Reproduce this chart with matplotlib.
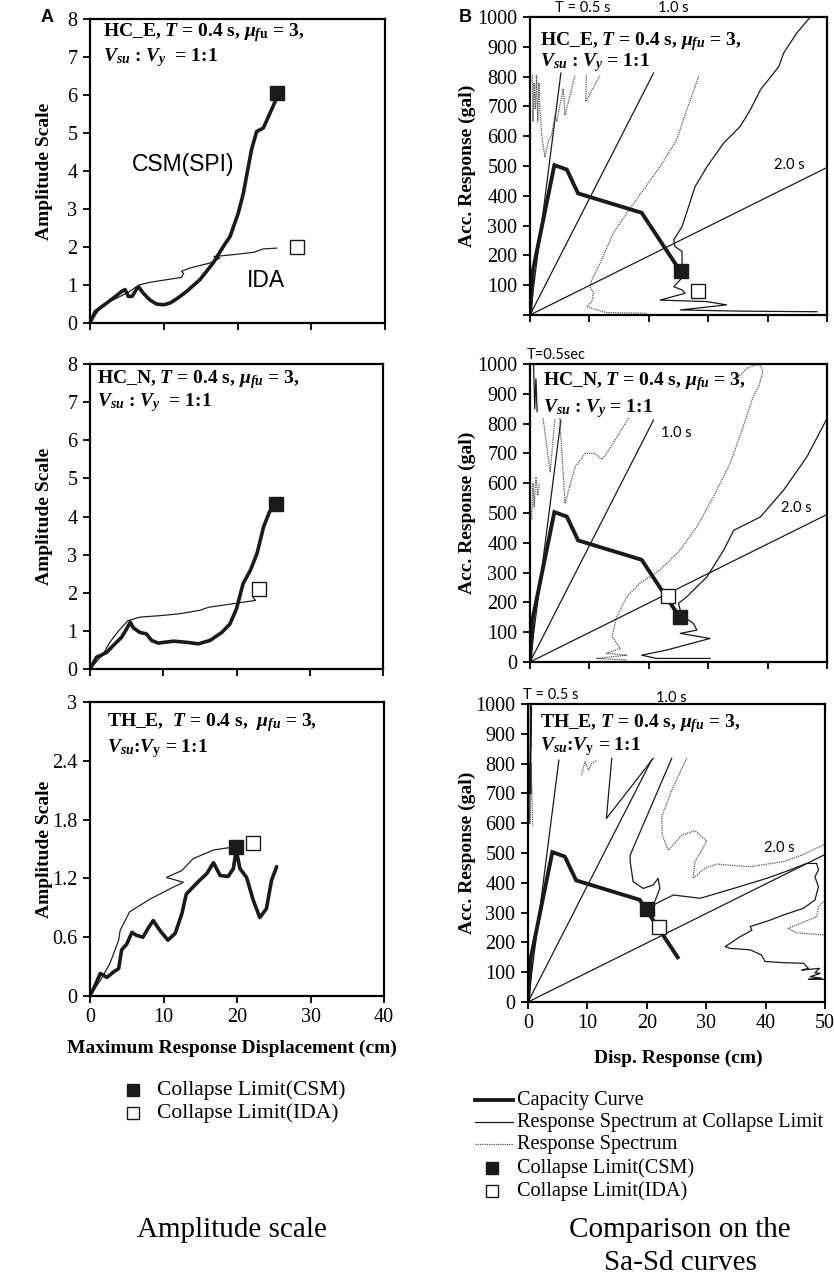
import numpy as np
import matplotlib.pyplot as plt
from matplotlib.lines import Line2D

nan = np.nan

# ---- Amplitude scale panels (A) ----
a1_csm_x = [0, 0.7, 2.3, 3.2, 4.3, 4.75, 5.2, 5.7, 6.3, 6.6, 7.2, 8.1, 9.0, 10.0, 10.9, 12.0, 13.1, 14.9,
            16.7, 18.1, 19.0, 20.1, 20.8, 21.3, 21.9, 22.6, 23.5, 24.4, 25.2]
a1_csm_y = [0, 0.3, 0.53, 0.66, 0.83, 0.88, 0.7, 0.7, 0.88, 0.95, 0.79, 0.61, 0.5, 0.48, 0.53, 0.67, 0.83, 1.14,
            1.58, 2.02, 2.28, 2.89, 3.42, 3.94, 4.56, 5.04, 5.13, 5.52, 5.87]
a1_ida_x = [0, 1.4, 2.7, 4.1, 5.4, 6.6, 8.1, 10.4, 12.4, 12.7, 12.4, 13.6, 16.3, 17.6, 16.8, 19.5, 22.2, 23.5, 25.3]
a1_ida_y = [0, 0.4, 0.57, 0.7, 0.83, 1.0, 1.07, 1.14, 1.2, 1.3, 1.36, 1.45, 1.58, 1.71, 1.75, 1.8, 1.86, 1.95, 1.97]
a1_csm_pt = (25.4, 6.05)
a1_ida_pt = (28.1, 2.0)

a2_csm_x = [0, 0.9, 1.4, 2.3, 3.4, 4.3, 5.0, 5.5, 5.9, 6.8, 7.7, 8.4, 9.3, 11.4, 13.2, 14.8, 16.4, 18.0, 19.1,
            20.0, 20.9, 21.9, 22.8, 23.7, 24.5, 25.1]
a2_csm_y = [0, 0.31, 0.35, 0.44, 0.66, 0.83, 1.05, 1.23, 1.08, 0.96, 0.92, 0.75, 0.68, 0.73, 0.7, 0.66, 0.75,
            0.96, 1.18, 1.58, 2.24, 2.59, 3.03, 3.73, 4.12, 4.25]
a2_ida_x = [0, 1.8, 2.7, 3.9, 5.2, 6.8, 9.6, 12.3, 15.0, 16.2, 19.1, 22.6, 22.2, 22.4]
a2_ida_y = [0, 0.39, 0.7, 1.0, 1.27, 1.36, 1.4, 1.45, 1.54, 1.62, 1.7, 1.8, 1.89, 1.97]
a2_csm_pt = (25.4, 4.32)
a2_ida_pt = (23.1, 2.1)

a3_csm_x = [0, 0.7, 1.4, 2.3, 3.2, 3.9, 4.3, 5.0, 5.7, 6.3, 7.2, 7.9, 8.6, 9.5, 10.6, 11.6, 12.5, 13.1, 14.5,
            15.9, 16.8, 17.7, 18.8, 19.5, 19.9, 20.4, 21.3, 22.2, 23.1, 24.0, 24.7, 25.4]
a3_csm_y = [0, 0.11, 0.23, 0.19, 0.245, 0.28, 0.47, 0.53, 0.65, 0.62, 0.6, 0.69, 0.77, 0.67, 0.57, 0.64, 0.84,
            1.04, 1.15, 1.25, 1.36, 1.23, 1.22, 1.3, 1.49, 1.3, 1.21, 0.98, 0.8, 0.89, 1.18, 1.32]
a3_ida_x = [0, 1.4, 2.7, 3.9, 4.1, 5.4, 8.2, 11.3, 12.7, 10.4, 12.5, 14.0, 16.8, 19.5]
a3_ida_y = [0, 0.16, 0.33, 0.57, 0.67, 0.86, 0.99, 1.11, 1.16, 1.21, 1.28, 1.4, 1.49, 1.52]
a3_csm_pt = (19.9, 1.52)
a3_ida_pt = (22.2, 1.56)

# ---- Sa-Sd panels (B) ----
cap_x = [0, 0.5, 4.1, 6.2, 8.1, 18.8, 25.2]
cap_y = [0, 150, 503, 488, 408, 343, 150]
period_sd_end = [5.2, 20.8, 50.0]
period_sa_end = [812, 812, 495]

b1_col_x = [47.2, 44.9, 42.7, 41.9, 38.8, 37.1, 35.4, 32.6, 29.8, 27.8, 26.7, 25.6, 24.2, 24.4, 25.6, 25.6,
            25.8, 25.8, 24.2, 25.6, 26.1, 21.9, 29.8, 33.1, 25.3, 35.4, 48.3]
b1_col_y = [1000, 946, 879, 834, 756, 689, 633, 577, 498, 431, 364, 297, 252, 230, 213, 174,
            140, 129, 95, 84, 73, 50, 45, 34, 17, 13, 11]
b1_spec_x = [0.4, 0.5, 0.7, 0.9, 1.1, 1.3, 1.5, 1.7, 2.0, 2.5, 3.1, 3.6, 4.2, 4.5, 5.6, 5.9, 7.6, nan,
             9.5, 9.4, 11.8, nan,
             28.4, 26.4, 24.7, 21.9, 19.1, 16.3, 14.0, 11.8, 10.4, 10.1, 10.7, 10.4, 9.6, 11.2, 12.9, 19.7]
b1_spec_y = [805, 650, 780, 690, 805, 650, 780, 680, 600, 530, 585, 600, 670, 650, 760, 670, 805, nan,
             805, 716, 805, nan,
             800, 689, 588, 498, 420, 342, 274, 174, 118, 95, 73, 45, 28, 17, 8, 6]
b1_csm_pt = (25.4, 149)
b1_ida_pt = (28.2, 82)

b2_col_x = [50.0, 46.6, 42.7, 38.8, 34.3, 32.6, 29.8, 26.4, 25.0, 25.3, 25.8, 27.5, 28.1, 25.3, 30.3, 23.0,
            18.8, 21.3, 30.3, nan, 0.6, 0.8, 1.0, 1.2]
b2_col_y = [817, 688, 577, 487, 442, 375, 286, 219, 197, 174, 152, 130, 107, 96, 79, 40,
            23, 12, 12, nan, 1000, 850, 950, 840]
b2_spec_x = [0.3, 0.5, 0.7, 1.0, 1.3, 1.6, nan,
             2.2, 3.4, 4.2, nan, 5.0, 5.9, 7.6, 9.3, 10.9, 12.1, 12.9, 16.6, nan,
             35.0, 36.5, 38.0, 38.8, 39.2, 38.6, 37.6, 35.7, 33.7, 30.9, 28.1, 25.3, 21.9, 18.5, 16.3, 14.6,
             13.8, 15.2, 12.9, 16.3, 11.2, 16.3]
b2_spec_y = [480, 600, 520, 620, 560, 600, nan,
             818, 638, 818, nan, 818, 532, 655, 700, 700, 680, 700, 818, nan,
             955, 985, 998, 995, 975, 930, 891, 779, 667, 555, 454, 376, 309, 264, 219, 152,
             85, 46, 29, 23, 12, 7]
b2_csm_pt = (25.3, 152)
b2_ida_pt = (23.3, 221)

b3_col_x = [14.1, 13.2, 21.1, nan,
            24.2, 17.2, 17.2, 17.7, 19.4, 21.1, 21.9, 22.2, 21.1, nan,
            21.1, 22.2, 24.5, 29.0, 34.6, 40.2, 44.1, 46.9, 48.6, 48.9, 48.3, 48.9, 48.3, 46.3, 43.0, 40.8,
            37.4, 37.7, 35.7, 33.2, 34.0, 37.4, 39.3, 39.9, 43.0, 46.4, 47.2, 46.1, 49.1, 48.3, 49.2, 47.5,
            49.4, 47.2, 50.0, nan, 0.3, 0.45, 0.35, 0.6]
b3_col_y = [818, 616, 818, nan,
            818, 493, 471, 404, 381, 393, 415, 381, 325, nan,
            325, 337, 359, 348, 381, 415, 443, 465, 465, 443, 420, 387, 342, 314, 292, 275,
            253, 241, 219, 186, 180, 175, 158, 136, 132, 130, 113, 107, 113, 98, 96, 85,
            80, 76, 76, nan, 600, 1000, 700, 990]
b3_spec_x = [0.3, 0.5, 0.4, 0.6, 0.5, 0.8, nan,
             9.0, 9.6, 10.2, 10.7, 11.6, nan,
             26.7, 24.2, 22.5, 22.6, 23.6, 25.9, 28.1, 30.1, 28.1, 27.8, 29.8, 31.8, 34.6, 37.4, 40.0, 43.0,
             46.4, 50.0, nan,
             50.0, 48.9, 48.6, 43.8, 45.2, 50.0]
b3_spec_y = [1000, 850, 950, 700, 800, 590, nan,
             762, 806, 778, 800, 812, nan,
             818, 711, 622, 560, 510, 560, 575, 540, 470, 415, 449, 463, 458, 454, 462, 471,
             495, 530, nan,
             342, 320, 286, 247, 232, 225]
b3_csm_pt = (20.0, 312)
b3_ida_pt = (22.1, 253)

plt.rcParams['font.family'] = ['Liberation Serif', 'DejaVu Serif']
plt.rcParams['mathtext.fontset'] = 'custom'
plt.rcParams['mathtext.rm'] = 'Liberation Serif:bold'
plt.rcParams['mathtext.it'] = 'Liberation Serif:italic:bold'
plt.rcParams['mathtext.bf'] = 'Liberation Serif:bold'

W, H = 834, 1278
fig = plt.figure(figsize=(W / 100, H / 100), dpi=100)


def px(x, y):
    return x / W, 1 - y / H


def make_ax(x0, y0, x1, y1):
    ax = fig.add_axes([x0 / W, 1 - y1 / H, (x1 - x0) / W, (y1 - y0) / H])
    for s in ax.spines.values():
        s.set_linewidth(1.6)
    ax.tick_params(direction='out', length=5, width=1.3, labelsize=14.5, pad=4)
    return ax


def title(ax, x, y1, y2, line1, line2):
    ax.text(x, y1, line1, transform=ax.transAxes, va='center', ha='left',
            fontsize=14, fontweight='bold', zorder=6)
    ax.text(x, y2, line2, transform=ax.transAxes, va='center', ha='left',
            fontsize=14, fontweight='bold', zorder=6)


def amp_panel(box, cx, cy, ix, iy, cpt, ipt, ymax, yticks, ylabels):
    ax = make_ax(*box)
    ax.plot(ix, iy, color='#222222', lw=0.9)
    ax.plot(cx, cy, color='#1a1a1a', lw=2.6, solid_capstyle='round')
    ax.plot(*cpt, marker='s', ms=9.5, mfc='#1a1a1a', mec='#1a1a1a', ls='none', zorder=5)
    ax.plot(*ipt, marker='s', ms=9.5, mfc='white', mec='#1a1a1a', mew=1.0, ls='none', zorder=5)
    ax.set_xlim(0, 40)
    ax.set_ylim(0, ymax)
    ax.set_xticks([0, 10, 20, 30, 40])
    ax.set_yticks(yticks)
    ax.set_yticklabels(ylabels)
    ax.set_ylabel('Amplitude Scale', fontsize=14, fontweight='bold')
    ax.yaxis.set_label_coords((53 - box[0]) / (box[2] - box[0]), 0.5)
    return ax


ax1 = amp_panel((90, 19, 385, 323), a1_csm_x, a1_csm_y, a1_ida_x, a1_ida_y, a1_csm_pt, a1_ida_pt,
                8, range(9), [str(v) for v in range(9)])
ax1.tick_params(labelbottom=False)
title(ax1, 0.044, 0.954, 0.872, r'HC_E, $T$ = 0.4 s, $\mu_{f\mathrm{u}}$ = 3,', r'$V_{su}$ : $V_{y}$  = 1:1')
ax1.text(12.6, 4.16, 'CSM(SPI)', family='Liberation Sans', fontsize=16.5, ha='center', va='center')
ax1.text(23.9, 1.13, 'IDA', family='Liberation Sans', fontsize=16.5, ha='center', va='center')

ax2 = amp_panel((90, 364, 383, 669), a2_csm_x, a2_csm_y, a2_ida_x, a2_ida_y, a2_csm_pt, a2_ida_pt,
                8, range(9), [str(v) for v in range(9)])
ax2.tick_params(labelbottom=False)
title(ax2, 0.024, 0.948, 0.875, r'HC_N, $T$ = 0.4 s, $\mu_{fu}$ = 3,', r'$V_{su}$ : $V_{y}$  = 1:1')

ax3 = amp_panel((90, 702, 384, 996), a3_csm_x, a3_csm_y, a3_ida_x, a3_ida_y, a3_csm_pt, a3_ida_pt,
                3, [0, 0.6, 1.2, 1.8, 2.4, 3], ['0', '0.6', '1.2', '1.8', '2.4', '3'])
title(ax3, 0.058, 0.929, 0.843, r'TH_E,  $T$ = 0.4 s,  $\mu_{fu}$ = 3,', r'$V_{su}$:$V_{\mathrm{y}}$ = 1:1')


def sasd_panel(box, col_x, col_y, spec_x, spec_y, cpt, ipt):
    ax = make_ax(*box)
    for sd, sa in zip(period_sd_end, period_sa_end):
        ax.plot([0, sd], [0, sa], color='#1a1a1a', lw=0.9)
    ax.plot(spec_x, spec_y, color='#555555', lw=0.9, ls=(0, (1, 0.8)))
    ax.plot(col_x, col_y, color='#1a1a1a', lw=0.9)
    ax.plot(cap_x, cap_y, color='#1a1a1a', lw=2.8, solid_joinstyle='miter')
    ax.plot(*cpt, marker='s', ms=10, mfc='#1a1a1a', mec='#1a1a1a', ls='none', zorder=5)
    ax.plot(*ipt, marker='s', ms=10, mfc='white', mec='#1a1a1a', mew=1.0, ls='none', zorder=5)
    ax.set_xlim(0, 50)
    ax.set_ylim(0, 1000)
    ax.set_xticks(range(0, 51, 10))
    ax.set_yticks(range(0, 1001, 100))
    ax.set_ylabel('Acc. Response (gal)', fontsize=14, fontweight='bold')
    ax.yaxis.set_label_coords((476 - box[0]) / (box[2] - box[0]), 0.5)
    return ax


lab = dict(family=['Lato', 'DejaVu Sans'], fontsize=10.5, ha='center', va='center')

bx1 = sasd_panel((530, 17, 827, 315), b1_col_x, b1_col_y, b1_spec_x, b1_spec_y, b1_csm_pt, b1_ida_pt)
bx1.tick_params(labelbottom=False)
bx1.set_yticklabels([''] + [str(v) for v in range(100, 1001, 100)])
title(bx1, 0.034, 0.916, 0.846, r'HC_E, $T$ = 0.4 s, $\mu_{fu}$ = 3,', r'$V_{su}$ : $V_{y}$ = 1:1')
bx1.text(8.8, 1030, 'T = 0.5 s', clip_on=False, **lab)
bx1.text(24.2, 1030, '1.0 s', clip_on=False, **lab)
bx1.text(43.6, 503, '2.0 s', **lab)

bx2 = sasd_panel((530, 364, 827, 662), b2_col_x, b2_col_y, b2_spec_x, b2_spec_y, b2_csm_pt, b2_ida_pt)
bx2.tick_params(labelbottom=False)
title(bx2, 0.044, 0.94, 0.852, r'HC_N, $T$ = 0.4 s, $\mu_{fu}$ = 3,', r'$V_{su}$ : $V_{y}$ = 1:1')
bx2.text(4.4, 1030, 'T=0.5sec', clip_on=False, **lab)
bx2.text(24.7, 768, '1.0 s', **lab)
bx2.text(44.8, 517, '2.0 s', **lab)

bx3 = sasd_panel((528, 704, 825, 1002), b3_col_x, b3_col_y, b3_spec_x, b3_spec_y, b3_csm_pt, b3_ida_pt)
title(bx3, 0.04, 0.936, 0.856, r'TH_E, $T$ = 0.4 s, $\mu_{fu}$ = 3,', r'$V_{su}$:$V_{\mathrm{y}}$ = 1:1')
bx3.text(3.9, 1030, 'T = 0.5 s', clip_on=False, **lab)
bx3.text(24.2, 1020, '1.0 s', clip_on=False, **lab)
bx3.text(42.3, 517, '2.0 s', **lab)

# panel letters, axis titles, legends, captions
fig.text(*px(47, 18), 'A', family='Liberation Sans', fontweight='bold', fontsize=13, ha='center', va='center')
fig.text(*px(465, 17), 'B', family='Liberation Sans', fontweight='bold', fontsize=13, ha='center', va='center')
fig.text(*px(232, 1048), 'Maximum Response Displacement (cm)', fontsize=14, fontweight='bold',
         ha='center', va='center')
fig.text(*px(678, 1058), 'Disp. Response (cm)', fontsize=14, fontweight='bold', ha='center', va='center')

leg_fs = 15.5
fig.add_artist(Line2D([133 / W], [1 - 1090 / H], marker='s', ms=9, mfc='#1a1a1a', mec='#1a1a1a',
                      ls='none', transform=fig.transFigure))
fig.add_artist(Line2D([133 / W], [1 - 1113 / H], marker='s', ms=9, mfc='white', mec='#1a1a1a',
                      ls='none', transform=fig.transFigure))
fig.text(*px(157, 1090), 'Collapse Limit(CSM)', fontsize=leg_fs, va='center')
fig.text(*px(157, 1113), 'Collapse Limit(IDA)', fontsize=leg_fs, va='center')

leg_rows = [1100, 1122, 1144, 1168, 1191]
fig.add_artist(Line2D([475 / W, 513 / W], [1 - 1100 / H] * 2, color='#1a1a1a', lw=2.8, transform=fig.transFigure))
fig.add_artist(Line2D([475 / W, 513 / W], [1 - 1122 / H] * 2, color='#1a1a1a', lw=0.9, transform=fig.transFigure))
fig.add_artist(Line2D([475 / W, 513 / W], [1 - 1144 / H] * 2, color='#555555', lw=0.9, ls=(0, (1, 0.8)),
                      transform=fig.transFigure))
fig.add_artist(Line2D([492 / W], [1 - 1168 / H], marker='s', ms=9, mfc='#1a1a1a', mec='#1a1a1a',
                      ls='none', transform=fig.transFigure))
fig.add_artist(Line2D([492 / W], [1 - 1191 / H], marker='s', ms=9, mfc='white', mec='#1a1a1a',
                      ls='none', transform=fig.transFigure))
for y, t in zip(leg_rows, ['Capacity Curve', 'Response Spectrum at Collapse Limit', 'Response Spectrum',
                           'Collapse Limit(CSM)', 'Collapse Limit(IDA)']):
    fig.text(*px(517, y), t, fontsize=14.6, va='center')

fig.text(*px(232, 1230), 'Amplitude scale', fontsize=21, ha='center', va='center')
fig.text(*px(680, 1230), 'Comparison on the', fontsize=21, ha='center', va='center')
fig.text(*px(680, 1263), 'Sa-Sd curves', fontsize=21, ha='center', va='center')

fig.savefig('out.png', dpi=100)
